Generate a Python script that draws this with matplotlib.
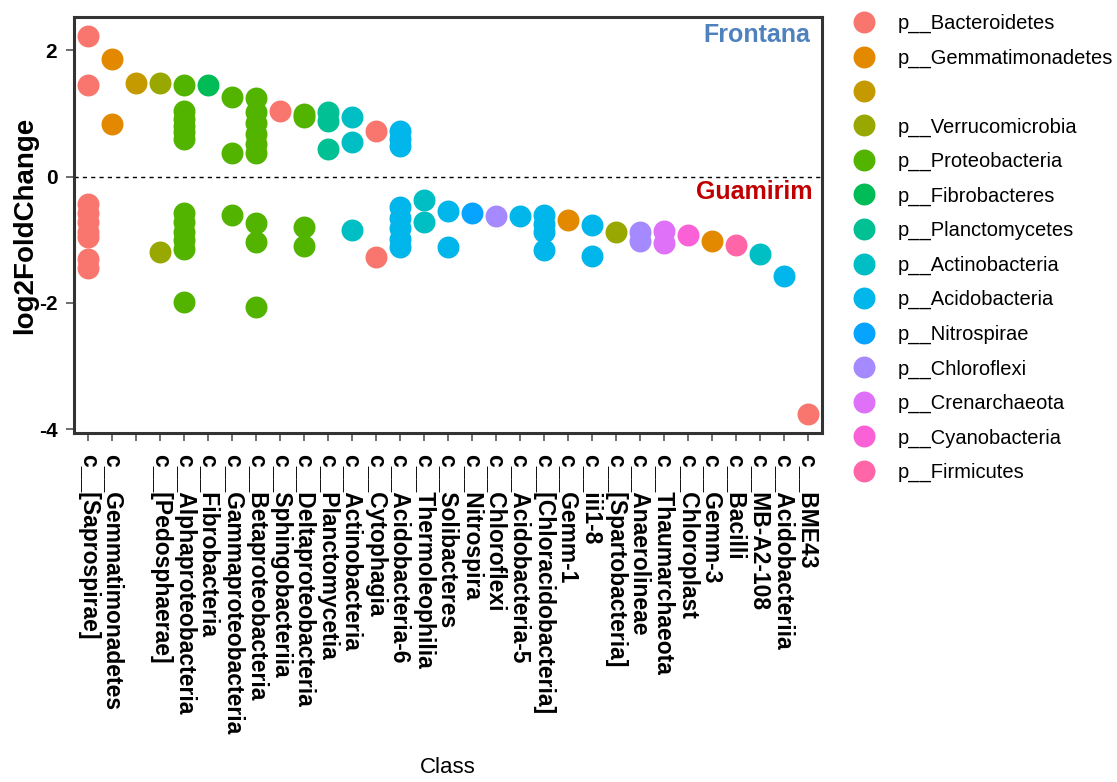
"""Dot plot of log2 fold change per bacterial class, coloured by phylum."""

import matplotlib

matplotlib.use("Agg")
import matplotlib.pyplot as plt
from matplotlib.lines import Line2D

plt.rcParams["font.family"] = ["Liberation Sans", "DejaVu Sans"]

classes = [
    "c__[Saprospirae]", "c__Gemmatimonadetes", "", "c__[Pedosphaerae]",
    "c__Alphaproteobacteria", "c__Fibrobacteria", "c__Gammaproteobacteria",
    "c__Betaproteobacteria", "c__Sphingobacteriia", "c__Deltaproteobacteria",
    "c__Planctomycetia", "c__Actinobacteria", "c__Cytophagia",
    "c__Acidobacteria-6", "c__Thermoleophilia", "c__Solibacteres",
    "c__Nitrospira", "c__Chloroflexi", "c__Acidobacteria-5",
    "c__[Chloracidobacteria]", "c__Gemm-1", "c__iii1-8", "c__[Spartobacteria]",
    "c__Anaerolineae", "c__Thaumarchaeota", "c__Chloroplast", "c__Gemm-3",
    "c__Bacilli", "c__MB-A2-108", "c__Acidobacteriia", "c__BME43",
]

class_phylum = [
    "p__Bacteroidetes", "p__Gemmatimonadetes", "", "p__Verrucomicrobia",
    "p__Proteobacteria", "p__Fibrobacteres", "p__Proteobacteria",
    "p__Proteobacteria", "p__Bacteroidetes", "p__Proteobacteria",
    "p__Planctomycetes", "p__Actinobacteria", "p__Bacteroidetes",
    "p__Acidobacteria", "p__Actinobacteria", "p__Acidobacteria",
    "p__Nitrospirae", "p__Chloroflexi", "p__Acidobacteria",
    "p__Acidobacteria", "p__Gemmatimonadetes", "p__Acidobacteria",
    "p__Verrucomicrobia", "p__Chloroflexi", "p__Crenarchaeota",
    "p__Cyanobacteria", "p__Gemmatimonadetes", "p__Firmicutes",
    "p__Actinobacteria", "p__Acidobacteria", "p__Bacteroidetes",
]

# log2 fold change of each OTU, grouped by class (same order as classes)
lfc = [
    [2.23, 1.45, -0.44, -0.58, -0.72, -0.88, -0.95, -1.30, -1.45],
    [1.87, 0.84],
    [1.49],
    [1.48, -1.19],
    [1.45, 1.04, 0.92, 0.80, 0.70, 0.60, -0.58, -0.72, -0.87, -1.00, -1.15, -1.99],
    [1.45],
    [1.26, 0.37, -0.61],
    [1.25, 1.02, 0.85, 0.68, 0.52, 0.38, -0.74, -1.03, -2.07],
    [1.04],
    [1.00, 0.95, -0.80, -1.10],
    [1.03, 0.88, 0.44],
    [0.94, 0.55, -0.84],
    [0.72, -1.28],
    [0.72, 0.60, 0.49, -0.48, -0.65, -0.82, -0.98, -1.12],
    [-0.37, -0.72],
    [-0.54, -1.12],
    [-0.58],
    [-0.63],
    [-0.62],
    [-0.60, -0.75, -0.88, -1.16],
    [-0.68],
    [-0.77, -1.25],
    [-0.88],
    [-0.88, -1.02],
    [-0.86, -1.05],
    [-0.92],
    [-1.02],
    [-1.09],
    [-1.22],
    [-1.58],
    [-3.76],
]

phyla = [
    "p__Bacteroidetes", "p__Gemmatimonadetes", "", "p__Verrucomicrobia",
    "p__Proteobacteria", "p__Fibrobacteres", "p__Planctomycetes",
    "p__Actinobacteria", "p__Acidobacteria", "p__Nitrospirae",
    "p__Chloroflexi", "p__Crenarchaeota", "p__Cyanobacteria", "p__Firmicutes",
]
phylum_colors = [
    "#F8766D", "#E38900", "#C49A00", "#99A800", "#53B400", "#00BC56",
    "#00C094", "#00BFC4", "#00B6EB", "#06A4FF", "#A58AFF", "#DF70F8",
    "#FB61D7", "#FF66A8",
]
color_of = dict(zip(phyla, phylum_colors))

DOT = 15.8  # marker diameter in points

fig = plt.figure(figsize=(11.17, 7.82), dpi=100)
ax = fig.add_axes([0.0662, 0.4463, 0.6697, 0.532])

for i, (phylum, values) in enumerate(zip(class_phylum, lfc), start=1):
    ax.scatter([i] * len(values), values, s=DOT ** 2, color=color_of[phylum],
               linewidths=0, zorder=3)

ax.axhline(0, color="black", linestyle=(0, (3, 3)), linewidth=1.0, zorder=2)

ax.set_xlim(0.4, len(classes) + 0.6)
ax.set_ylim(-4.06, 2.53)
ax.set_xticks(range(1, len(classes) + 1))
ax.set_xticklabels(classes, rotation=-90, ha="center", va="top",
                   fontsize=16.5, fontweight="bold")
ax.set_yticks([-4, -2, 0, 2])
ax.set_yticklabels(["-4", "-2", "0", "2"], fontsize=15, fontweight="bold")
ax.tick_params(axis="both", length=6, width=1.2, color="#555555")
ax.tick_params(axis="x", pad=9)
ax.tick_params(axis="y", pad=6)

for side in ax.spines.values():
    side.set_linewidth(2.2)
    side.set_color("#333333")

ax.set_xlabel("Class", fontsize=16)
ax.xaxis.set_label_coords(0.5, -0.805)
ax.xaxis.label.set_va("center")
ax.set_ylabel("log2FoldChange", fontsize=20, fontweight="bold")
ax.yaxis.set_label_coords(-0.065, 0.5)
ax.yaxis.label.set_va("center")

ax.text(0.984, 0.957, "Frontana", transform=ax.transAxes, ha="right",
        va="center", fontsize=18, fontweight="bold", color="#4F81BD")
ax.text(0.987, 0.579, "Guamirim", transform=ax.transAxes, ha="right",
        va="center", fontsize=18, fontweight="bold", color="#C00000")

handles = [Line2D([], [], marker="o", linestyle="", markersize=DOT,
                  markerfacecolor=c, markeredgewidth=0) for c in phylum_colors]
labels = [p if p else " " for p in phyla]
fig.legend(handles, labels, loc="upper left",
           bbox_to_anchor=(852 / 1117, 1 - 14 / 782),
           bbox_transform=fig.transFigure, frameon=False, fontsize=14.5,
           handlelength=1.2, handletextpad=1.05, labelspacing=0.76,
           borderpad=0, borderaxespad=0)

fig.savefig("out.png", dpi=100)
